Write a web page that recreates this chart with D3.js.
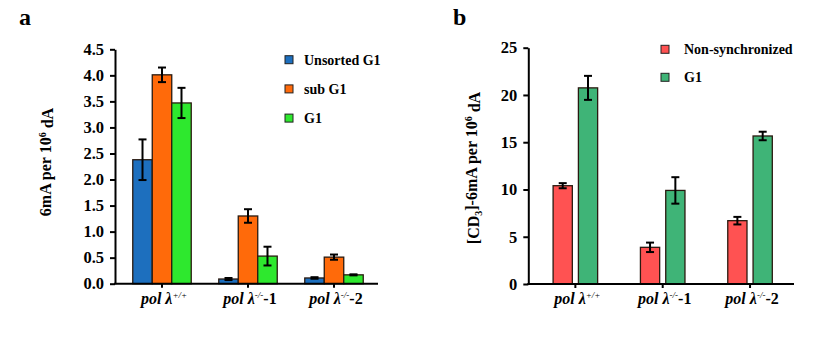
<!DOCTYPE html>
<html>
<head>
<meta charset="utf-8">
<script src="https://cdn.jsdelivr.net/npm/d3@7"></script>
<style>
  body { margin: 0; background: #fff; }
  svg text { font-family: "Liberation Serif", "Times New Roman", serif; font-weight: bold; fill: #000; }
  .axis path, .axis line { stroke: #000; stroke-width: 2px; }
</style>
</head>
<body>
<svg width="831" height="363"></svg>
<script>
// categories shared by both panels
const groups = ["wt", "ko1", "ko2"];
const groupSup = ["+/+", "-/-", "-/-"];
const groupSuffix = ["", "-1", "-2"];

// panel a
const seriesA = ["Unsorted G1", "sub G1", "G1"];
const colorsA = ["#1d6fbe", "#ff6a0a", "#2ee82e"];
const valuesA = [
  [2.38, 0.09, 0.11],   // Unsorted G1
  [4.01, 1.30, 0.51],   // sub G1
  [3.47, 0.53, 0.17]    // G1
];
const errorsA = [
  [0.39, 0.02, 0.015],
  [0.14, 0.13, 0.05],
  [0.29, 0.18, 0.01]
];
const ticksA = [0, 0.5, 1, 1.5, 2, 2.5, 3, 3.5, 4, 4.5];

// panel b
const seriesB = ["Non-synchronized", "G1"];
const colorsB = ["#ff5252", "#3fb477"];
const valuesB = [
  [10.4, 3.88, 6.7],    // Non-synchronized
  [20.75, 9.9, 15.66]   // G1
];
const errorsB = [
  [0.27, 0.5, 0.4],
  [1.27, 1.4, 0.45]
];
const ticksB = [0, 5, 10, 15, 20, 25];

const serif = "'Liberation Serif', 'Times New Roman', serif";
const svg = d3.select("svg");

function xLabel(g, x, y, i) {
  const t = g.append("text").attr("x", x).attr("y", y)
    .attr("text-anchor", "middle").style("font-size", "16px");
  t.append("tspan").style("font-style", "italic").text("pol λ");
  t.append("tspan").attr("dy", -6).style("font-size", "9px").style("font-style", "italic")
    .style("font-weight", "normal").text(groupSup[i]);
  if (groupSuffix[i]) t.append("tspan").attr("dy", 6).text(groupSuffix[i]);
}

function panel(opt) {
  const g = svg.append("g");
  const y = d3.scaleLinear().domain(opt.domain).range([opt.y0, opt.y1]);
  const x0 = d3.scaleBand().domain(groups).range(opt.xr)
    .paddingInner(opt.padIn).paddingOuter(opt.padIn / 2);
  const x1 = d3.scaleBand().domain(opt.series).range([0, x0.bandwidth()]).paddingInner(opt.barGap);

  // bars
  opt.series.forEach((s, si) => {
    g.selectAll(null).data(groups).enter().append("rect")
      .attr("x", d => x0(d) + x1(s))
      .attr("y", (d, i) => y(opt.values[si][i]))
      .attr("width", x1.bandwidth())
      .attr("height", (d, i) => y(0) - y(opt.values[si][i]))
      .attr("fill", opt.colors[si])
      .attr("stroke", "#2a1a10").attr("stroke-width", 1.3);
  });

  // error bars
  opt.series.forEach((s, si) => {
    groups.forEach((d, i) => {
      const cx = x0(d) + x1(s) + x1.bandwidth() / 2;
      const v = opt.values[si][i], e = opt.errors[si][i];
      const eb = g.append("g").attr("stroke", "#000").attr("stroke-width", 2);
      eb.append("line").attr("x1", cx).attr("x2", cx).attr("y1", y(v + e)).attr("y2", y(v - e));
      eb.append("line").attr("x1", cx - 4).attr("x2", cx + 4).attr("y1", y(v + e)).attr("y2", y(v + e));
      eb.append("line").attr("x1", cx - 4).attr("x2", cx + 4).attr("y1", y(v - e)).attr("y2", y(v - e));
    });
  });

  // axes
  const ya = g.append("g").attr("class", "axis")
    .attr("transform", "translate(" + opt.axisX + ",0)")
    .call(d3.axisLeft(y).tickValues(opt.ticks).tickFormat(opt.fmt).tickSize(5).tickSizeOuter(0).tickPadding(6));
  ya.selectAll("text")
    .style("font-family", serif).style("font-size", "16.5px").style("font-weight", "bold");
  const xa = g.append("g").attr("class", "axis")
    .attr("transform", "translate(0," + y(0) + ")");
  xa.append("line").attr("x1", opt.axisX - 1).attr("x2", opt.axisEnd).attr("stroke", "#000").attr("stroke-width", 2);
  xa.selectAll(null).data(groups).enter().append("line")
    .attr("x1", d => x0(d) + x0.bandwidth() / 2).attr("x2", d => x0(d) + x0.bandwidth() / 2)
    .attr("y1", 0).attr("y2", 4).attr("stroke", "#000").attr("stroke-width", 2);

  groups.forEach((d, i) => xLabel(g, x0(d) + x0.bandwidth() / 2 + 2, opt.y0 + 20, i));

  // legend
  opt.series.forEach((s, si) => {
    const ly = opt.legY + si * opt.legStep;
    g.append("rect").attr("x", opt.legX - 4).attr("y", ly - 4).attr("width", 8).attr("height", 8)
      .attr("fill", opt.colors[si]).attr("stroke", "#222").attr("stroke-width", 1);
    g.append("text").attr("x", opt.legX + opt.legGap).attr("y", ly + 5)
      .style("font-size", "14px").text(s);
  });

  // panel letter
  g.append("text").attr("x", opt.letterX).attr("y", 25).style("font-size", "24px").text(opt.letter);
  return g;
}

const ga = panel({
  letter: "a", letterX: 19,
  series: seriesA, colors: colorsA, values: valuesA, errors: errorsA,
  domain: [0, 4.5], y0: 283.7, y1: 49.3, ticks: ticksA, fmt: d3.format(".1f"),
  xr: [119, 377], padIn: 0.32, barGap: 0,
  axisX: 115, axisEnd: 378,
  legX: 289, legY: 59.7, legStep: 29.2, legGap: 15
});
ga.append("text")
  .attr("transform", "translate(45,162) rotate(-90)")
  .attr("text-anchor", "middle").attr("dy", "0.35em").style("font-size", "16px")
  .call(t => {
    t.append("tspan").text("6mA per 10");
    t.append("tspan").attr("dy", "-0.45em").style("font-size", "10px").text("6");
    t.append("tspan").attr("dy", "0.45em").text(" dA");
  });

const gb = panel({
  letter: "b", letterX: 453,
  series: seriesB, colors: colorsB, values: valuesB, errors: errorsB,
  domain: [0, 25], y0: 284, y1: 47.7, ticks: ticksB, fmt: d3.format("d"),
  xr: [531.7, 793.7], padIn: 0.49, barGap: 0.24,
  axisX: 528.3, axisEnd: 794,
  legX: 665, legY: 49.3, legStep: 28, legGap: 19
});
gb.append("text")
  .attr("transform", "translate(473,168) rotate(-90)")
  .attr("text-anchor", "middle").attr("dy", "0.35em").style("font-size", "16px")
  .call(t => {
    t.append("tspan").text("[CD");
    t.append("tspan").attr("dy", "0.3em").style("font-size", "10px").text("3");
    t.append("tspan").attr("dy", "-0.3em").text("]-6mA per 10");
    t.append("tspan").attr("dy", "-0.45em").style("font-size", "10px").text("6");
    t.append("tspan").attr("dy", "0.45em").text(" dA");
  });
</script>
</body>
</html>
